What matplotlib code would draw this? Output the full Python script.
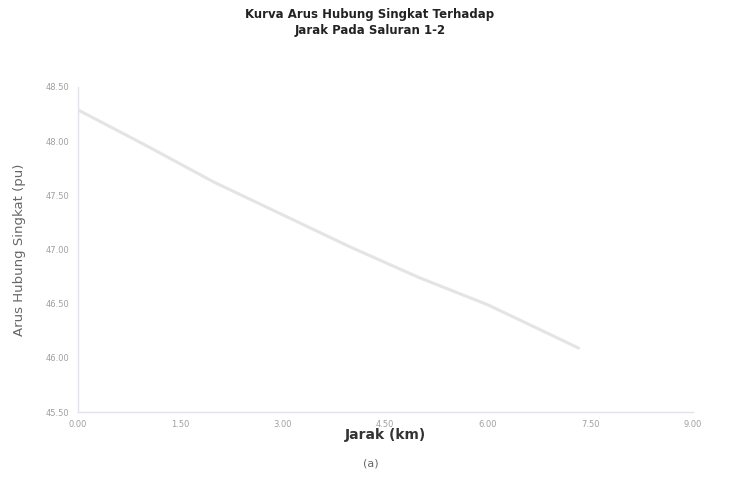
import matplotlib
matplotlib.use("Agg")
import matplotlib.pyplot as plt

# data
jarak = [0.0, 1.0, 2.0, 3.0, 4.0, 5.0, 6.0, 7.0, 7.33]
arus = [48.29, 47.96, 47.62, 47.32, 47.02, 46.74, 46.49, 46.19, 46.09]
x_ticks = [0.0, 1.5, 3.0, 4.5, 6.0, 7.5, 9.0]
y_ticks = [45.5, 46.0, 46.5, 47.0, 47.5, 48.0, 48.5]

fig = plt.figure(figsize=(7.4, 4.97), dpi=100)
ax = fig.add_axes([0.105, 0.171, 0.831, 0.654])
ax.plot(jarak, arus, color="#e4e4e4", linewidth=2.2, solid_capstyle="round")
ax.set_xlim(0, 9)
ax.set_ylim(45.5, 48.5)
ax.set_xticks(x_ticks)
ax.set_xticklabels([f"{v:.2f}" for v in x_ticks])
ax.set_yticks(y_ticks)
ax.set_yticklabels([f"{v:.2f}" for v in y_ticks])
ax.tick_params(labelsize=6, colors="#a0a0a0", length=0, pad=6)
for s in ["top", "right"]:
    ax.spines[s].set_visible(False)
for s in ["left", "bottom"]:
    ax.spines[s].set_color("#e2e2f0")
    ax.spines[s].set_linewidth(1)
ax.set_xlabel("Jarak (km)", fontsize=10, fontweight="bold", color="#333333", labelpad=-1)
ax.set_ylabel("Arus Hubung Singkat (pu)", fontsize=9.5, color="#666666", labelpad=14)
fig.text(0.5, 0.955, "Kurva Arus Hubung Singkat Terhadap\nJarak Pada Saluran 1-2",
         ha="center", va="center", fontsize=8.5, fontweight="bold", color="#222222",
         linespacing=1.3)
fig.text(0.501, 0.068, "(a)", ha="center", va="center", fontsize=8, color="#666666")
fig.savefig("out.png", dpi=100, facecolor="white")
